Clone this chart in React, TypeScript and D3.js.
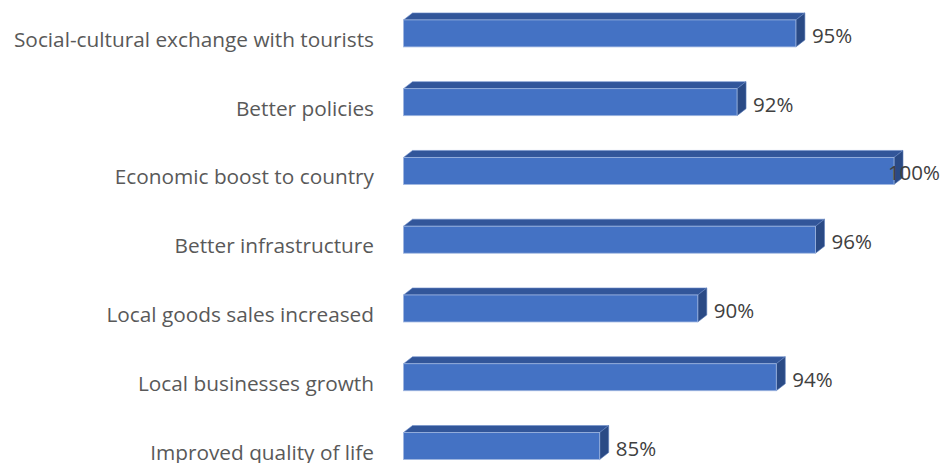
import React, { useEffect, useRef } from "react";
import * as d3 from "d3";

const categories = [
  "Social-cultural exchange with tourists",
  "Better policies",
  "Economic boost to country",
  "Better infrastructure",
  "Local goods sales increased",
  "Local businesses growth",
  "Improved quality of life",
];
const values = [95, 92, 100, 96, 90, 94, 85];
const valueLabels = ["95%", "92%", "100%", "96%", "90%", "94%", "85%"];

const W = 941;
const H = 463;

export default function App() {
  const ref = useRef<SVGSVGElement | null>(null);

  useEffect(() => {
    const svg = d3.select(ref.current);
    svg.selectAll("*").remove();

    const x = d3.scaleLinear().domain([75, 100]).range([403.5, 894]);
    const y = d3.scalePoint<string>().domain(categories).range([33.4, 446]);
    const barH = 27;
    const dx = 9;
    const dy = 7;
    const x0 = x(75);

    const data = categories.map((c, i) => ({ c, v: values[i], label: valueLabels[i] }));

    const g = svg.append("g");
    const bars = g.selectAll("g.bar").data(data).enter().append("g").attr("class", "bar");

    bars
      .append("path")
      .attr("d", (d) => {
        const t = (y(d.c) as number) - barH / 2;
        const x1 = x(d.v);
        return `M${x0},${t}L${x0 + dx},${t - dy}L${x1 + dx},${t - dy}L${x1},${t}Z`;
      })
      .attr("fill", "#32569A")
      .attr("stroke", "#6F8FCB")
      .attr("stroke-width", 0.6);

    bars
      .append("path")
      .attr("d", (d) => {
        const t = (y(d.c) as number) - barH / 2;
        const b = t + barH;
        const x1 = x(d.v);
        return `M${x1},${t}L${x1 + dx},${t - dy}L${x1 + dx},${b - dy}L${x1},${b}Z`;
      })
      .attr("fill", "#2A4A85")
      .attr("stroke", "#5C7DBB")
      .attr("stroke-width", 0.6);

    bars
      .append("rect")
      .attr("x", x0)
      .attr("y", (d) => (y(d.c) as number) - barH / 2)
      .attr("width", (d) => x(d.v) - x0)
      .attr("height", barH)
      .attr("fill", "#4472C4")
      .attr("stroke", "#9FB6E0")
      .attr("stroke-width", 0.8);

    const fam = "'Open Sans', sans-serif";

    bars
      .append("text")
      .text((d) => d.label)
      .attr("font-family", fam)
      .attr("font-size", 20.5)
      .attr("fill", "#404040")
      .attr("y", (d) => (y(d.c) as number) + 9.5)
      .each(function (d) {
        const el = this as SVGTextElement;
        const w = el.getComputedTextLength();
        const px = Math.min(x(d.v) + dx + 7, W - 1 - w);
        d3.select(el).attr("x", px);
      });

    g.selectAll("text.cat")
      .data(categories)
      .enter()
      .append("text")
      .attr("class", "cat")
      .text((d) => d)
      .attr("x", 374)
      .attr("y", (d) => (y(d) as number) + 13.5)
      .attr("text-anchor", "end")
      .attr("font-family", fam)
      .attr("font-size", 20.8)
      .attr("fill", "#595959");
  }, []);

  return (
    <div style={{ position: "absolute", left: 0, top: 0 }}>
      <svg ref={ref} width={W} height={H} style={{ display: "block", background: "#fff" }} />
    </div>
  );
}
